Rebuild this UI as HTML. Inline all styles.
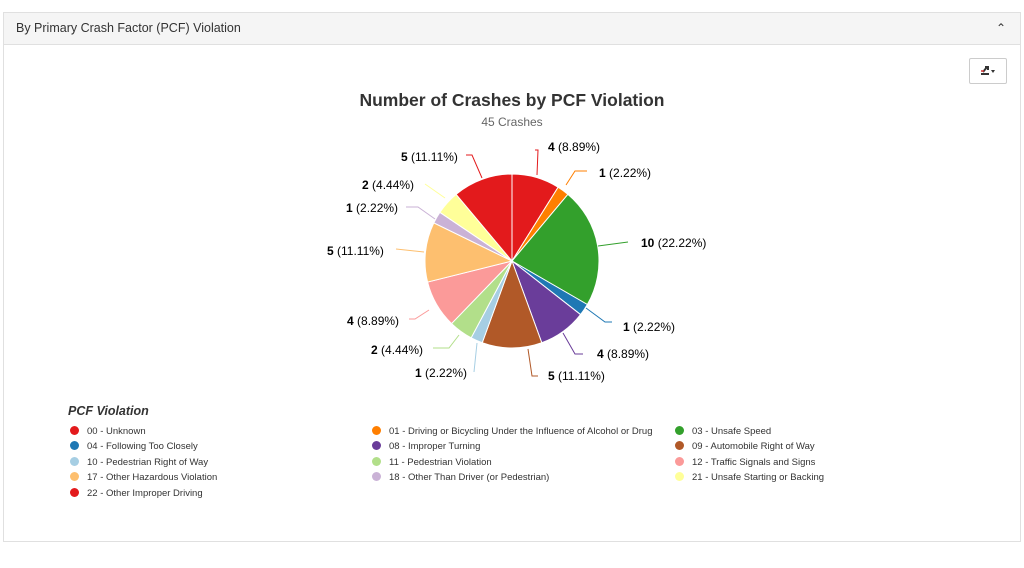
<!DOCTYPE html>
<html><head><meta charset="utf-8"><style>
body{margin:0;width:1024px;height:568px;background:#fff;font-family:"Liberation Sans",sans-serif;position:relative;overflow:hidden}
.panel{position:absolute;left:3px;top:12px;width:1016px;height:528px;border:1px solid #e0e0e0}
.hdr{height:31px;background:#f5f5f5;border-bottom:1px solid #e0e0e0;font-size:12.5px;color:#333;line-height:31px;padding-left:12px}
.caret{position:absolute;right:14px;top:0;font-size:12px}
.btn{position:absolute;left:969px;top:58px;width:36px;height:24px;border:1px solid #ccc;border-radius:2px;background:#fff}
.lg{position:absolute;font-size:9.5px;color:#333}
.lg i{display:inline-block;width:9px;height:9px;border-radius:50%;margin-right:8px;vertical-align:-1px}
</style></head><body>
<div class="panel"><div class="hdr">By Primary Crash Factor (PCF) Violation<span class="caret">&#8963;</span></div></div>
<div class="btn"><svg width="36" height="24"><path d="M11 15h8M13 13l4-5M15 8h3v3" stroke="#333" stroke-width="2" fill="none"/><path d="M11 12h3" stroke="#c33" stroke-width="1.5"/><path d="M21 11l4 0l-2 3z" fill="#333"/></svg></div>
<svg id="s" width="1024" height="568" style="position:absolute;left:0;top:0">
<text x="512" y="106" text-anchor="middle" font-size="17.5" font-weight="bold" fill="#333">Number of Crashes by PCF Violation</text>
<text x="512" y="126" text-anchor="middle" font-size="12" fill="#666">45 Crashes</text>
<text x="68" y="415" font-size="12.5" font-weight="bold" font-style="italic" fill="#333">PCF Violation</text>
</svg>
<div class="lg" style="left:70px;top:426px"><i style="background:#e31a1c"></i>00 - Unknown</div>
<div class="lg" style="left:372px;top:426px"><i style="background:#ff7f00"></i>01 - Driving or Bicycling Under the Influence of Alcohol or Drug</div>
<div class="lg" style="left:675px;top:426px"><i style="background:#33a02c"></i>03 - Unsafe Speed</div>
<div class="lg" style="left:70px;top:441px"><i style="background:#1f78b4"></i>04 - Following Too Closely</div>
<div class="lg" style="left:372px;top:441px"><i style="background:#6a3d9a"></i>08 - Improper Turning</div>
<div class="lg" style="left:675px;top:441px"><i style="background:#b15928"></i>09 - Automobile Right of Way</div>
<div class="lg" style="left:70px;top:457px"><i style="background:#a6cee3"></i>10 - Pedestrian Right of Way</div>
<div class="lg" style="left:372px;top:457px"><i style="background:#b2df8a"></i>11 - Pedestrian Violation</div>
<div class="lg" style="left:675px;top:457px"><i style="background:#fb9a99"></i>12 - Traffic Signals and Signs</div>
<div class="lg" style="left:70px;top:472px"><i style="background:#fdbf6f"></i>17 - Other Hazardous Violation</div>
<div class="lg" style="left:372px;top:472px"><i style="background:#cab2d6"></i>18 - Other Than Driver (or Pedestrian)</div>
<div class="lg" style="left:675px;top:472px"><i style="background:#ffff99"></i>21 - Unsafe Starting or Backing</div>
<div class="lg" style="left:70px;top:488px"><i style="background:#e31a1c"></i>22 - Other Improper Driving</div>
<script>
var s=document.getElementById('s'),ns='http://www.w3.org/2000/svg';
var cx=512,cy=261,r=87;
var d=[[4,'#e31a1c'],[1,'#ff7f00'],[10,'#33a02c'],[1,'#1f78b4'],[4,'#6a3d9a'],[5,'#b15928'],[1,'#a6cee3'],[2,'#b2df8a'],[4,'#fb9a99'],[5,'#fdbf6f'],[1,'#cab2d6'],[2,'#ffff99'],[5,'#e31a1c']];
var L=[[548,151,'4','8.89%','537,175 538,150 535,150','s'],[599,177,'1','2.22%','566,185 575,171 587,171','s'],[641,247,'10','22.22%','598,246 628,242','s'],[623,331,'1','2.22%','586,308 605,322 612,322','s'],[597,358,'4','8.89%','563,333 575,354 583,354','s'],[548,380,'5','11.11%','528,349 532,376 538,376','s'],[415,377,'1','2.22%','477,343 474,372','s'],[371,354,'2','4.44%','459,335 449,348 433,348','s'],[347,325,'4','8.89%','429,310 415,319 409,319','s'],[327,255,'5','11.11%','424,252 396,249','s'],[346,212,'1','2.22%','435,219 418,207 406,207','s'],[362,189,'2','4.44%','445,198 425,184','s'],[401,161,'5','11.11%','482,178 472,155 466,155','s']];
var a=0;
d.forEach(function(e,i){var a2=a+e[0]/45*2*Math.PI;
function p(t){return (cx+r*Math.sin(t)).toFixed(2)+','+(cy-r*Math.cos(t)).toFixed(2)}
var path=document.createElementNS(ns,'path');
path.setAttribute('d','M'+cx+','+cy+'L'+p(a)+'A'+r+','+r+' 0 '+(a2-a>Math.PI?1:0)+' 1 '+p(a2)+'Z');
path.setAttribute('fill',e[1]);path.setAttribute('stroke','#fff');path.setAttribute('stroke-width','1');s.appendChild(path);
var l=L[i],pl=document.createElementNS(ns,'polyline');pl.setAttribute('points',l[4]);pl.setAttribute('fill','none');pl.setAttribute('stroke',e[1]);s.appendChild(pl);
var t=document.createElementNS(ns,'text');t.setAttribute('x',l[0]);t.setAttribute('y',l[1]);t.setAttribute('font-size','12');t.setAttribute('fill','#000');
t.innerHTML='<tspan font-weight="bold">'+l[2]+'</tspan> ('+l[3]+')';s.appendChild(t);
a=a2;});
</script>
</body></html>
